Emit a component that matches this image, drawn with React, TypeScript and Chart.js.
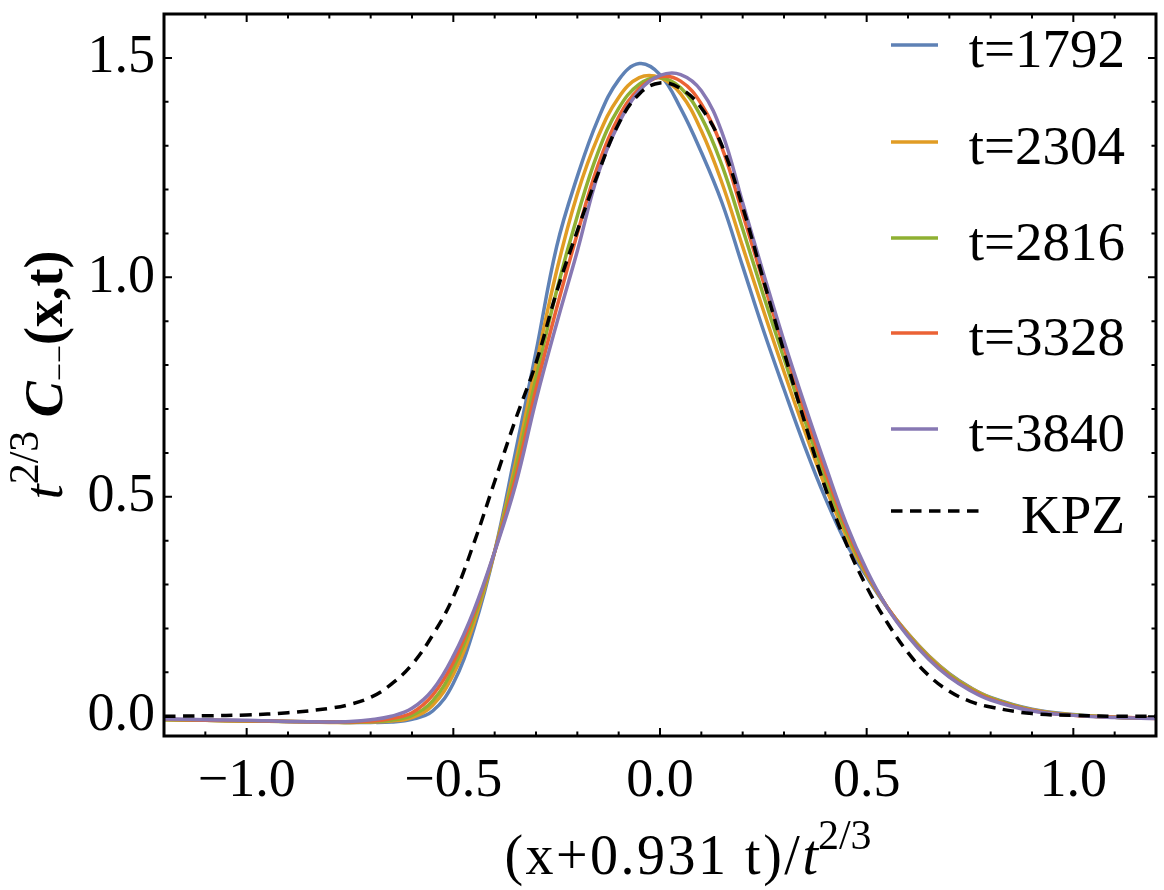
import React, { useEffect, useRef } from 'react';
import { Chart, registerables } from 'chart.js';

Chart.register(...registerables);

// scaled coordinate (x+0.931 t)/t^(2/3), shared by every curve
const xs = [
  -1.2, -1.1, -1.0, -0.9, -0.8, -0.75, -0.7, -0.65, -0.6, -0.55, -0.5, -0.45, -0.4, -0.35,
  -0.3, -0.25, -0.2, -0.15, -0.1, -0.05, 0, 0.05, 0.1, 0.15, 0.2, 0.25, 0.3, 0.35, 0.4, 0.45,
  0.5, 0.55, 0.6, 0.65, 0.7, 0.75, 0.8, 0.9, 1.0, 1.1, 1.2,
];

const t1792 = [
  -0.007, -0.009, -0.01, -0.012, -0.013, -0.014, -0.014, -0.013, -0.007, 0.012, 0.075, 0.2, 0.375, 0.6,
  0.83, 1.07, 1.23, 1.36, 1.45, 1.487, 1.462, 1.385, 1.285, 1.17, 1.025, 0.88, 0.745, 0.615, 0.497, 0.395,
  0.318, 0.247, 0.188, 0.138, 0.097, 0.066, 0.043, 0.016, 0.004, -0.002, -0.004,
];
const t2304 = [
  -0.008, -0.009, -0.011, -0.012, -0.014, -0.014, -0.013, -0.011, -0.003, 0.025, 0.095, 0.213, 0.375, 0.575,
  0.8, 1.015, 1.19, 1.32, 1.41, 1.455, 1.455, 1.418, 1.334, 1.215, 1.07, 0.925, 0.785, 0.65, 0.523, 0.412,
  0.322, 0.248, 0.188, 0.137, 0.096, 0.065, 0.042, 0.015, 0.003, -0.002, -0.004,
];
const t2816 = [
  -0.008, -0.009, -0.011, -0.012, -0.013, -0.014, -0.012, -0.009, 0.002, 0.035, 0.11, 0.225, 0.375, 0.56,
  0.77, 0.97, 1.14, 1.285, 1.385, 1.44, 1.455, 1.432, 1.365, 1.255, 1.11, 0.96, 0.815, 0.675, 0.542, 0.422,
  0.325, 0.248, 0.186, 0.135, 0.094, 0.063, 0.041, 0.014, 0.003, -0.002, -0.004,
];
const t3328 = [
  -0.007, -0.009, -0.01, -0.012, -0.013, -0.013, -0.011, -0.005, 0.008, 0.048, 0.123, 0.235, 0.375, 0.54,
  0.745, 0.93, 1.1, 1.255, 1.365, 1.43, 1.457, 1.447, 1.395, 1.295, 1.145, 0.99, 0.84, 0.695, 0.558, 0.432,
  0.328, 0.248, 0.184, 0.132, 0.091, 0.061, 0.039, 0.013, 0.002, -0.002, -0.005,
];
const t3840 = [
  -0.006, -0.008, -0.009, -0.012, -0.013, -0.012, -0.008, 0.0, 0.018, 0.06, 0.137, 0.242, 0.375, 0.525,
  0.72, 0.895, 1.06, 1.235, 1.35, 1.425, 1.46, 1.462, 1.425, 1.33, 1.17, 1.01, 0.855, 0.71, 0.572, 0.44,
  0.333, 0.247, 0.182, 0.13, 0.089, 0.059, 0.037, 0.012, 0.002, -0.003, -0.005,
];
const kpz = [
  0.0, 0.001, 0.003, 0.008, 0.018, 0.027, 0.043, 0.073, 0.118, 0.185, 0.272, 0.395, 0.535, 0.675,
  0.805, 0.967, 1.106, 1.236, 1.35, 1.418, 1.443, 1.43, 1.386, 1.3, 1.16, 0.995, 0.83, 0.67, 0.52, 0.395,
  0.295, 0.213, 0.145, 0.093, 0.057, 0.034, 0.021, 0.006, 0.002, 0.0, 0.0,
];

const seriesNames = ['t=1792', 't=2304', 't=2816', 't=3328', 't=3840'];
const seriesValues = [t1792, t2304, t2816, t3328, t3840];
const seriesColors = ['#5E81B5', '#E19C24', '#8FB032', '#EB6235', '#8778B3'];
const kpzName = 'KPZ';

const xMajorTicks = [-1.0, -0.5, 0.0, 0.5, 1.0];
const xMinorTicks = [
  -1.1, -0.9, -0.8, -0.7, -0.6, -0.4, -0.3, -0.2, -0.1, 0.1, 0.2, 0.3, 0.4, 0.6, 0.7, 0.8, 0.9, 1.1,
];
const yMajorTicks = [0.0, 0.5, 1.0, 1.5];
const yMinorTicks = [0.1, 0.2, 0.3, 0.4, 0.6, 0.7, 0.8, 0.9, 1.1, 1.2, 1.3, 1.4];

const SERIF = '"Liberation Serif", "Times New Roman", serif';
const font = (size: number, style = 'normal', weight = 'normal') =>
  `${style} ${weight} ${size}px ${SERIF}`;
const fmtTick = (v: number) => v.toFixed(1).replace('-', '\u2212');

type Seg = { text: string; font: string; dy?: number; spacing?: number };

function drawRich(ctx: any, segs: Seg[], cx: number, y: number) {
  const widths = segs.map((s) => {
    ctx.font = s.font;
    ctx.letterSpacing = `${s.spacing || 0}px`;
    return ctx.measureText(s.text).width;
  });
  const total = widths.reduce((a, b) => a + b, 0);
  let x = cx - total / 2;
  segs.forEach((s, i) => {
    ctx.font = s.font;
    ctx.letterSpacing = `${s.spacing || 0}px`;
    ctx.fillText(s.text, x, y + (s.dy || 0));
    x += widths[i];
  });
  ctx.letterSpacing = '0px';
}

// frame with inward ticks on all four sides, Mathematica style
const framePlugin = {
  id: 'frame',
  afterDatasetsDraw(chart: any) {
    const { ctx, chartArea: a, scales } = chart;
    const sx = scales.x;
    const sy = scales.y;
    ctx.save();
    ctx.strokeStyle = '#000';
    ctx.lineWidth = 2;
    ctx.beginPath();
    const xt = (v: number, len: number) => {
      const p = sx.getPixelForValue(v);
      ctx.moveTo(p, a.bottom);
      ctx.lineTo(p, a.bottom - len);
      ctx.moveTo(p, a.top);
      ctx.lineTo(p, a.top + len);
    };
    const yt = (v: number, len: number) => {
      const p = sy.getPixelForValue(v);
      ctx.moveTo(a.left, p);
      ctx.lineTo(a.left + len, p);
      ctx.moveTo(a.right, p);
      ctx.lineTo(a.right - len, p);
    };
    xMajorTicks.forEach((v) => xt(v, 8));
    xMinorTicks.forEach((v) => xt(v, 4.5));
    yMajorTicks.forEach((v) => yt(v, 8));
    yMinorTicks.forEach((v) => yt(v, 4.5));
    ctx.stroke();
    ctx.lineWidth = 3;
    ctx.strokeRect(a.left, a.top, a.right - a.left, a.bottom - a.top);
    ctx.restore();
  },
  afterDraw(chart: any) {
    const { ctx } = chart;
    ctx.save();
    ctx.fillStyle = '#000';
    ctx.textAlign = 'left';
    ctx.textBaseline = 'alphabetic';

    // x axis title
    drawRich(
      ctx,
      [
        { text: '(x+0.931 t)/', font: font(56), spacing: 2.5 },
        { text: 't', font: font(56, 'italic') },
        { text: '2/3', font: font(42), dy: -25 },
      ],
      688,
      874,
    );

    // y axis title
    ctx.save();
    ctx.translate(62, 375);
    ctx.rotate(-Math.PI / 2);
    drawRich(
      ctx,
      [
        { text: 't', font: font(54, 'italic') },
        { text: '2/3', font: font(42), dy: -24 },
        { text: ' ', font: font(54) },
        { text: 'C', font: font(54, 'italic', 'bold') },
        { text: '\u2212\u2212', font: font(32), dy: 8 },
        { text: '(x,t)', font: font(54, 'normal', 'bold') },
      ],
      0,
      0,
    );
    ctx.restore();

    // legend
    const rows = [45, 142, 238, 333, 429, 511];
    const entries = [
      ...seriesNames.map((name, i) => ({ name, color: seriesColors[i], dash: [] as number[], x2: 938 })),
      { name: kpzName, color: '#000', dash: [11.5, 7.5], x2: 983 },
    ];
    entries.forEach((e, i) => {
      const y = rows[i];
      ctx.strokeStyle = e.color;
      ctx.lineWidth = 3.5;
      ctx.setLineDash(e.dash);
      ctx.beginPath();
      ctx.moveTo(891, y);
      ctx.lineTo(e.x2, y);
      ctx.stroke();
      ctx.setLineDash([]);
      ctx.font = font(55);
      ctx.textAlign = 'right';
      ctx.fillText(e.name, 1125, y + 22);
    });
    ctx.restore();
  },
};

const App: React.FC = () => {
  const canvasRef = useRef<HTMLCanvasElement | null>(null);

  useEffect(() => {
    if (!canvasRef.current) return;
    const ctx = canvasRef.current.getContext('2d');
    if (!ctx) return;

    const toPoints = (ys: number[]) => xs.map((x, i) => ({ x, y: ys[i] }));

    const chart = new Chart(ctx, {
      type: 'line',
      data: {
        datasets: [
          {
            label: kpzName,
            data: toPoints(kpz),
            borderColor: '#000',
            borderWidth: 3.5,
            borderDash: [11.5, 7.5],
            order: 0,
          },
          ...seriesNames.map((name, i) => ({
            label: name,
            data: toPoints(seriesValues[i]),
            borderColor: seriesColors[i],
            borderWidth: 3.5,
            order: 5 - i,
          })),
        ],
      },
      options: {
        animation: false,
        responsive: true,
        maintainAspectRatio: false,
        layout: { padding: { top: 14, right: 8, left: 0, bottom: 0 } },
        elements: { point: { radius: 0 }, line: { tension: 0.4, fill: false } },
        plugins: { legend: { display: false }, tooltip: { enabled: false } },
        scales: {
          x: {
            type: 'linear',
            min: -1.2,
            max: 1.2,
            grid: { display: false, drawTicks: false },
            border: { display: false },
            ticks: {
              color: '#000',
              font: { family: SERIF, size: 54 },
              padding: 13,
              maxRotation: 0,
              autoSkip: false,
              callback: (v: any) => fmtTick(Number(v)),
            },
            afterBuildTicks: (s: any) => {
              s.ticks = xMajorTicks.map((value) => ({ value }));
            },
            afterFit: (s: any) => {
              s.height = 154;
              s.paddingLeft = 0;
              s.paddingRight = 0;
            },
          },
          y: {
            type: 'linear',
            min: -0.045,
            max: 1.6,
            grid: { display: false, drawTicks: false },
            border: { display: false },
            ticks: {
              color: '#000',
              font: { family: SERIF, size: 54 },
              padding: 9,
              callback: (v: any) => fmtTick(Number(v)),
            },
            afterBuildTicks: (s: any) => {
              s.ticks = yMajorTicks.map((value) => ({ value }));
            },
            afterFit: (s: any) => {
              s.width = 164;
              s.paddingTop = 0;
              s.paddingBottom = 0;
            },
          },
        },
      },
      plugins: [framePlugin],
    });

    return () => {
      chart.destroy();
    };
  }, []);

  return (
    <div style={{ position: 'absolute', left: 0, top: 0, width: 1164, height: 890, background: '#fff' }}>
      <canvas ref={canvasRef} />
    </div>
  );
};

export default App;
